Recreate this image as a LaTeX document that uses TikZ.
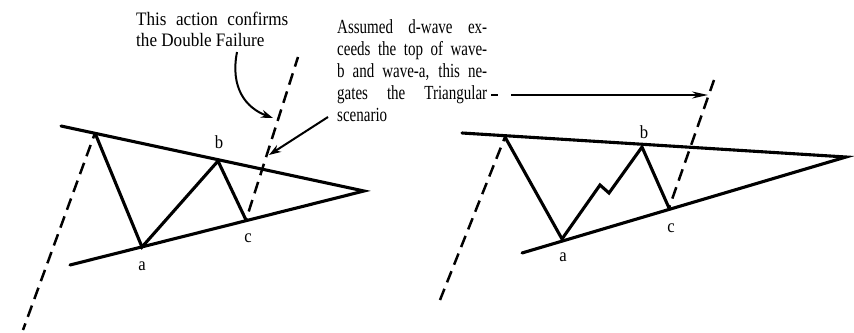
\documentclass[tikz,border=0pt]{standalone}
\usepackage{fontspec}
\setmainfont{Liberation Serif}
\newfontfamily\leftfont[FakeStretch=0.9]{Liberation Serif}
\newfontfamily\rightfont[FakeStretch=0.75]{Liberation Serif}
\usetikzlibrary{arrows.meta}
\begin{document}
\begin{tikzpicture}[x=1pt,y=-1pt,
  trend/.style={line width=3.1pt,line cap=round},
  wave/.style={line width=3.1pt,line join=miter},
  dashline/.style={line width=2.5pt,dash pattern=on 12pt off 7pt},
  lbl/.style={font=\leftfont\fontsize{18.5}{20}\selectfont,inner sep=0pt},
  note/.style={inner sep=0pt,align=left,anchor=base west},
  pointer/.style={line width=2pt,-{Stealth[length=12pt,width=8pt]}}]
\useasboundingbox (0,0) rectangle (854,332);
% ---------- left diagram ----------
\coordinate (Lu1) at (61,126);
\coordinate (Lu2) at (364,191);
\coordinate (Ll1) at (70,265);
\coordinate (Lp) at (95,133);
\coordinate (La) at (142,247);
\coordinate (Lb) at (218,161);
\coordinate (Lc) at (246,220);
\coordinate (Ld0) at (23,330);
\coordinate (Ld1) at (298,57);
\draw[trend] (Lu1) -- (Lu2) -- (Ll1);
\draw[wave] (Lp) -- (La) -- (Lb) -- (Lc);
\draw[dashline,dash phase=5pt] (Ld0) -- (Lp);
\draw[dashline,dash phase=10pt] (Lc) -- (Ld1);
\node[lbl] (la) at (142,266) {a};
\node[lbl] (lb) at (219,142) {b};
\node[lbl] (lc) at (248,238) {c};
% ---------- right diagram ----------
\coordinate (Ru1) at (462,133);
\coordinate (Ru2) at (846,157);
\coordinate (Rl1) at (522,253);
\coordinate (Rp) at (505,137);
\coordinate (Ra) at (562,239);
\coordinate (Rm1) at (600,185);
\coordinate (Rm2) at (609,193);
\coordinate (Rb) at (642,147);
\coordinate (Rc) at (669,208);
\coordinate (Rd0) at (440,300);
\coordinate (Rd1) at (714,80);
\draw[trend] (Ru1) -- (Ru2) -- (Rl1);
\draw[wave] (Rp) -- (Ra) -- (Rm1) -- (Rm2) -- (Rb) -- (Rc);
\draw[dashline] (Rd0) -- (Rp);
\draw[dashline,dash phase=9pt] (Rc) -- (Rd1);
\node[lbl] (ra) at (563,257) {a};
\node[lbl] (rb) at (644,132) {b};
\node[lbl] (rc) at (671,228) {c};
% ---------- notes ----------
\node[note,font=\leftfont\fontsize{19}{21}\selectfont] (n1) at (136,46)
  {\makebox[152pt][s]{This action confirms}\\the Double Failure};
\node[note,font=\rightfont\fontsize{20}{22}\selectfont] (n2) at (337,121)
  {\makebox[150pt][s]{Assumed d-wave ex-}\\
  \makebox[150pt][s]{ceeds the top of wave-}\\
  \makebox[150pt][s]{b and wave-a, this ne-}\\
  \makebox[150pt][s]{gates the Triangular}\\
  scenario};
\coordinate (c1s) at (237,52);
\coordinate (c1e) at (273,118);
\draw[pointer] (c1s) .. controls (230,88) and (246,108) .. (c1e);
\coordinate (c2s) at (328,117);
\coordinate (c2e) at (269,155);
\draw[pointer] (c2s) -- (c2e);
\coordinate (c3s) at (491,95);
\coordinate (c3e) at (708,95);
\draw[line width=1.8pt,dash pattern=on 7pt off 13pt on 400pt,-{Stealth[length=16pt,width=7pt]}] (c3s) -- (c3e);
\end{tikzpicture}
\end{document}
